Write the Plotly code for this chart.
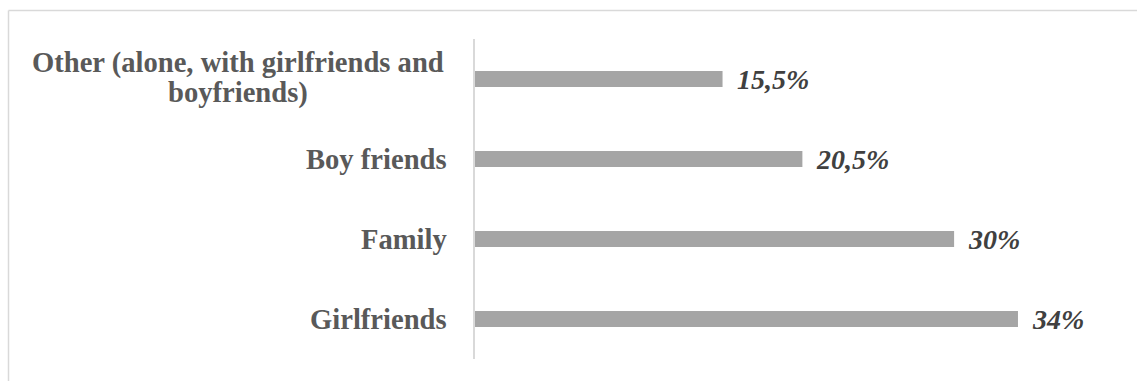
import plotly.graph_objects as go

# Who the respondents go out with, share of answers (%)
categories = [
    "Girlfriends",
    "Family",
    "Boy friends",
    "Other (alone, with girlfriends and<br>boyfriends)",
]
values = [34, 30, 20.5, 15.5]
value_labels = ["34%", "30%", "20,5%", "15,5%"]

W, H = 1137, 381
ML, MR, MT, MB = 475, 0, 39, 22
plot_w = W - ML - MR
plot_h = H - MT - MB
px_per_unit = 15.97  # horizontal scale of the value axis

BAR_COLOR = "#a5a5a5"
LABEL_COLOR = "#595959"
VALUE_COLOR = "#404040"
SERIF = "Liberation Serif"
LABEL_SIZE = 28.6
LINE_GAP = 30          # px between lines of a wrapped category label
LABEL_GAP = 26         # px between label's right edge and the axis
WRAP_CENTER_PX = 237.5  # horizontal centre of wrapped labels

fig = go.Figure()
fig.add_trace(go.Bar(
    x=values,
    y=list(range(len(categories))),
    orientation="h",
    width=0.2,
    marker=dict(color=BAR_COLOR, line=dict(width=0)),
    hoverinfo="skip",
))

annotations = []
for i, (cat, v, lab) in enumerate(zip(categories, values, value_labels)):
    lines = cat.split("<br>")
    if len(lines) == 1:
        annotations.append(dict(
            x=0, y=i, xref="x", yref="y",
            text=f"<b>{cat}</b>", showarrow=False,
            xanchor="right", yanchor="middle",
            xshift=-LABEL_GAP,
            font=dict(family=SERIF, size=LABEL_SIZE, color=LABEL_COLOR),
        ))
    else:
        n = len(lines)
        for k, line in enumerate(lines):
            annotations.append(dict(
                x=(WRAP_CENTER_PX - ML) / plot_w, y=i, xref="paper", yref="y",
                text=f"<b>{line}</b>", showarrow=False,
                xanchor="center", yanchor="middle",
                yshift=((n - 1) / 2 - k) * LINE_GAP + 1.5,
                font=dict(family=SERIF, size=LABEL_SIZE, color=LABEL_COLOR),
            ))
    annotations.append(dict(
        x=v, y=i, xref="x", yref="y",
        text=f"<b><i>{lab}</i></b>", showarrow=False,
        xanchor="left", yanchor="middle",
        xshift=12,
        font=dict(family=SERIF, size=28, color=VALUE_COLOR),
    ))

# Light frame around the chart (top and left edges are visible)
fx0 = (8.5 - ML) / plot_w
fy1 = 1 + (MT - 10.5) / plot_h
frame = [
    dict(type="line", xref="paper", yref="paper", x0=fx0, x1=1.2, y0=fy1, y1=fy1,
         line=dict(color="#d9d9d9", width=1.5)),
    dict(type="line", xref="paper", yref="paper", x0=fx0, x1=fx0, y0=fy1, y1=-0.3,
         line=dict(color="#d9d9d9", width=1.5)),
]

fig.update_layout(
    width=W, height=H,
    margin=dict(l=ML, r=MR, t=MT, b=MB, pad=0),
    paper_bgcolor="white", plot_bgcolor="white",
    showlegend=False,
    annotations=annotations,
    shapes=frame,
    xaxis=dict(range=[0, plot_w / px_per_unit], visible=False, fixedrange=True),
    yaxis=dict(range=[-0.5, len(categories) - 0.5], showticklabels=False,
               showgrid=False, zeroline=False, ticks="",
               showline=True, linecolor="#d9d9d9", linewidth=1.5,
               fixedrange=True),
)

fig.write_html("out.html", config={"displayModeBar": False})
